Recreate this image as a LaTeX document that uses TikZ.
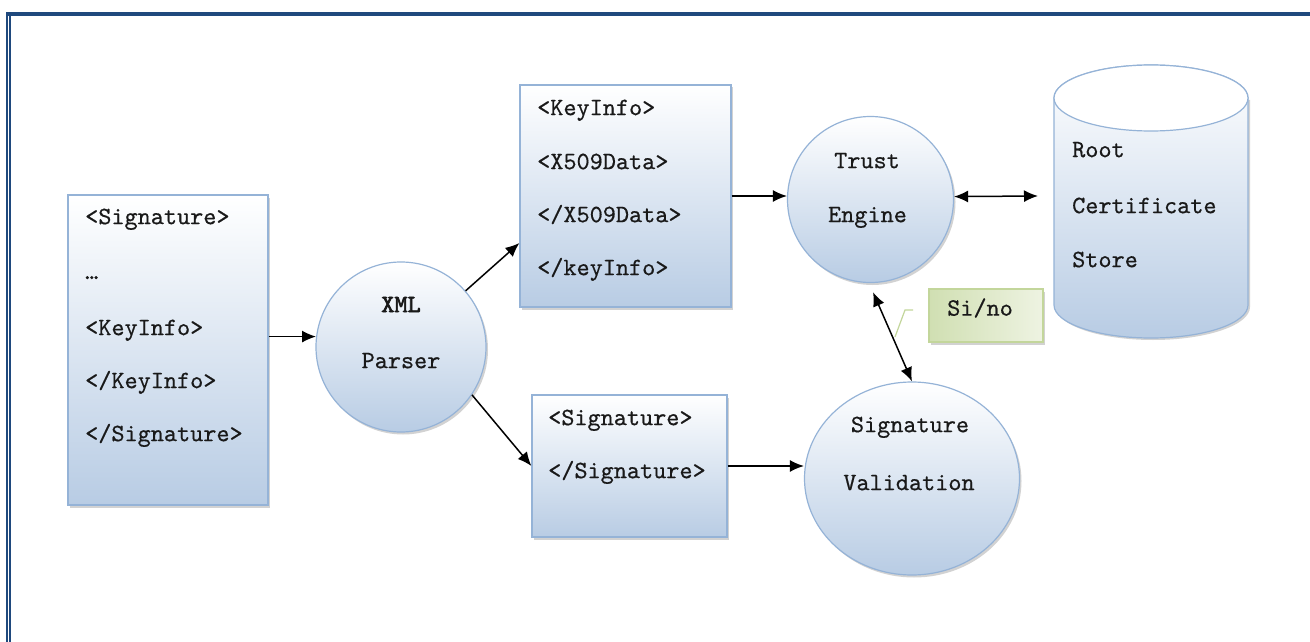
\documentclass[tikz,border=0pt]{standalone}
\usepackage{fontspec}
\setmonofont{lmmono10-regular.otf}[FakeBold=0.5, BoldFont=lmmono10-regular.otf, BoldFeatures={FakeBold=2.5}]
\usetikzlibrary{arrows.meta,shadows,shapes.geometric,calc}
\definecolor{bcol}{RGB}{31,73,125}
\definecolor{edgeblue}{RGB}{149,179,215}
\definecolor{fillblue}{RGB}{184,204,228}
\definecolor{gdark}{RGB}{208,223,178}
\definecolor{glight}{RGB}{238,243,226}
\definecolor{gedge}{RGB}{195,214,155}
\tikzset{
 txt/.style={font=\ttfamily\fontsize{25}{28}\selectfont, inner sep=0pt, text=black!90},
 ltxt/.style={txt, anchor=mid west},
 ctxt/.style={txt, anchor=mid},
 shad/.style={drop shadow={shadow xshift=2pt, shadow yshift=-2.5pt, opacity=0.35, fill=black!50}},
 bluebox/.style={rectangle, draw=edgeblue, line width=1.2pt, top color=white, bottom color=fillblue, shad, inner sep=0pt},
 bluecirc/.style={circle, draw=edgeblue, line width=1.2pt, top color=white, bottom color=fillblue, shad, inner sep=0pt},
 blueell/.style={ellipse, draw=edgeblue, line width=1.2pt, top color=white, bottom color=fillblue, shad, inner sep=0pt},
 greenbox/.style={rectangle, draw=gedge, line width=1.2pt, left color=gdark, right color=glight, shad, inner sep=0pt},
 arr/.style={line width=1.5pt, -{Latex[length=14pt,width=12pt]}},
 dbl/.style={line width=1.5pt, {Latex[length=14pt,width=12pt]}-{Latex[length=14pt,width=12pt]}},
}
\begin{document}
\begin{tikzpicture}[x=1pt,y=-1pt]
\useasboundingbox (0,0) rectangle (1310,642);
\fill[white] (0,0) rectangle (1310,642);
% page border
\fill[bcol] (6,12) rectangle (1310,16);
\fill[bcol] (6,12) rectangle (8,642);
\fill[bcol] (9,12) rectangle (11,642);

% left box
\node[bluebox, minimum width=200, minimum height=310] (lb) at (168,350) {};
\node[ltxt] (lb1) at (85,222) {<Signature>};
\node[ltxt] (lb2) at (85,277) {…};
\node[ltxt] (lb3) at (85,333) {<KeyInfo>};
\node[ltxt] (lb4) at (85,386) {</KeyInfo>};
\node[ltxt] (lb5) at (85,439) {</Signature>};

% XML parser
\node[bluecirc, minimum size=170] (pa) at (401,347) {};
\node[ctxt, font=\ttfamily\bfseries\fontsize{25}{28}\selectfont] (pa1) at (401,310) {XML};
\node[ctxt] (pa2) at (401,366) {Parser};

% top box
\node[bluebox, minimum width=211, minimum height=222] (tb) at (625.5,196) {};
\node[ltxt] (tb1) at (537,113) {<KeyInfo>};
\node[ltxt] (tb2) at (537,167) {<X509Data>};
\node[ltxt] (tb3) at (537,220) {</X509Data>};
\node[ltxt] (tb4) at (537,273) {</keyInfo>};

% bottom box
\node[bluebox, minimum width=195, minimum height=142] (bb) at (629.5,466) {};
\node[ltxt] (bb1) at (548,423) {<Signature>};
\node[ltxt] (bb2) at (548,476) {</Signature>};

% trust engine
\node[bluecirc, minimum size=166] (te) at (870.5,199.5) {};
\node[ctxt] (te1) at (867,166) {Trust};
\node[ctxt] (te2) at (867.5,220) {Engine};

% signature validation
\node[blueell, minimum width=215, minimum height=193] (sv) at (912,478.5) {};
\node[ctxt] (sv1) at (910,430) {Signature};
\node[ctxt] (sv2) at (909,488) {Validation};

% cylinder
\path[fill=black!50, opacity=0.35] (1056,100) -- (1056,307) arc[start angle=180, end angle=360, x radius=97pt, y radius=33pt] -- (1250,100) -- cycle;
\path[draw=edgeblue, line width=1.2pt, top color=white, bottom color=fillblue]
 (1054,98) -- (1054,305) arc[start angle=180, end angle=360, x radius=97pt, y radius=33pt] -- (1248,98)
 arc[start angle=0, end angle=180, x radius=97pt, y radius=33pt] -- cycle;
\draw[edgeblue, line width=1.2pt, fill=white] (1151,98) ellipse [x radius=97pt, y radius=33pt];
\node[ltxt] (cy1) at (1072,155) {Root};
\node[ltxt] (cy2) at (1072,211) {Certificate};
\node[ltxt] (cy3) at (1072,265) {Store};
\coordinate (cylL) at (1038,196);

% Si/no callout
\node[greenbox, minimum width=114, minimum height=53] (sino) at (986,315.5) {};
\node[ltxt] (sino1) at (947,313.5) {Si/no};
\draw[gedge, line width=1.2pt] (913,310) -- (905,310) -- (895,337);

% connectors
\draw[arr] (pa.173 -| lb.east) -- (pa.173);
\draw[arr] (pa.41) -- ([yshift=-47pt]tb.west);
\draw[arr] (pa.-34) -- (bb.west);
\draw[arr] (tb.east) -- (tb.east -| te.west);
\draw[arr] (bb.east) -- (bb.east -| sv.west);
\draw[dbl] (te.2) -- (cylL);
\draw[dbl, shorten <=10pt] (te.-91) -- (sv.north);
\end{tikzpicture}
\end{document}
